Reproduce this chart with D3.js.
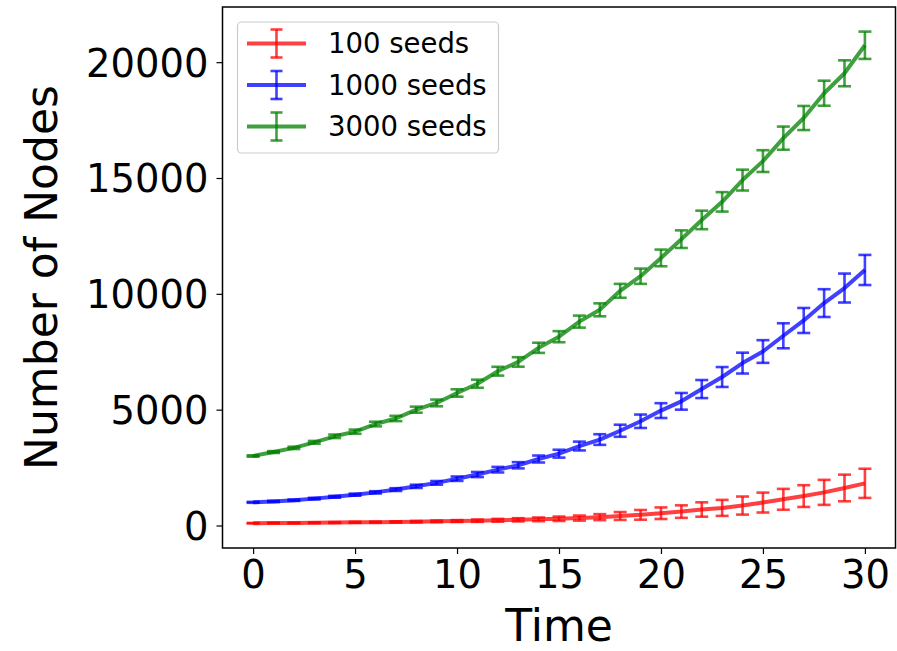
<!DOCTYPE html>
<html>
<head>
<meta charset="utf-8">
<script src="https://cdn.jsdelivr.net/npm/d3@7/dist/d3.min.js"></script>
<style>
  body { margin: 0; background: #fff; }
  svg { display: block; }
  text { font-family: "DejaVu Sans", sans-serif; fill: #000; }
</style>
</head>
<body>
<svg id="chart" width="897" height="651"></svg>
<script>
// Time steps of the simulation
const time = [0, 1, 2, 3, 4, 5, 6, 7, 8, 9, 10, 11, 12, 13, 14, 15,
              16, 17, 18, 19, 20, 21, 22, 23, 24, 25, 26, 27, 28, 29, 30];

// Mean number of nodes per time step, and the spread shown as error bars
const nodes100 = [100, 105, 110, 118, 126, 135, 145, 155, 165, 178, 192, 208, 225, 245, 265, 290,
                  320, 360, 410, 460, 530, 600, 690, 760, 860, 990, 1130, 1270, 1430, 1620, 1820];
const err100   = [10, 12, 14, 16, 18, 20, 23, 26, 30, 35, 40, 50, 60, 70, 80, 95,
                  110, 130, 170, 210, 250, 270, 310, 345, 390, 430, 450, 470, 540, 575, 630];

const nodes1000 = [1000, 1040, 1090, 1160, 1240, 1330, 1430, 1550, 1690, 1840, 2020, 2200, 2410, 2600, 2870, 3100,
                   3430, 3710, 4090, 4500, 4960, 5360, 5890, 6410, 7010, 7510, 8190, 8850, 9600, 10250, 11030];
const err1000   = [20, 25, 30, 35, 40, 45, 50, 60, 70, 80, 95, 110, 120, 135, 150, 170,
                   190, 230, 260, 290, 320, 360, 390, 430, 450, 490, 540, 540, 600, 625, 650];

const nodes3000 = [3000, 3170, 3350, 3590, 3850, 4050, 4380, 4620, 5000, 5290, 5720, 6120, 6660, 7060, 7670, 8150,
                   8800, 9310, 10130, 10760, 11550, 12360, 13190, 13970, 14910, 15730, 16720, 17590, 18660, 19520, 20730];
const err3000   = [30, 40, 50, 60, 75, 90, 100, 115, 130, 145, 160, 175, 190, 205, 220, 240,
                   260, 280, 300, 330, 360, 380, 400, 420, 450, 470, 500, 520, 540, 560, 590];

const seriesLabels = ["100 seeds", "1000 seeds", "3000 seeds"];
const seriesColors = ["#ff0000", "#0000ff", "#008000"];

const xTicks = [0, 5, 10, 15, 20, 25, 30];
const yTicks = [0, 5000, 10000, 15000, 20000];

const series = [
  { label: seriesLabels[0], color: seriesColors[0], mean: nodes100, err: err100 },
  { label: seriesLabels[1], color: seriesColors[1], mean: nodes1000, err: err1000 },
  { label: seriesLabels[2], color: seriesColors[2], mean: nodes3000, err: err3000 }
];

const svg = d3.select("#chart");
const box = { left: 222.5, right: 895.5, top: 7, bottom: 548 };

// Axis limits padded by 5% around the data, error bars included
const xMin = d3.min(time), xMax = d3.max(time);
const xPad = (xMax - xMin) * 0.05;
const x = d3.scaleLinear().domain([xMin - xPad, xMax + xPad]).range([box.left, box.right]);

const lo = d3.min(series, s => d3.min(s.mean, (v, i) => v - s.err[i]));
const hi = d3.max(series, s => d3.max(s.mean, (v, i) => v + s.err[i]));
const yPad = (hi - lo) * 0.05;
const y = d3.scaleLinear().domain([lo - yPad, hi + yPad]).range([box.bottom, box.top]);

// Axes
const xAxis = svg.append("g")
  .attr("transform", `translate(0,${box.bottom})`)
  .call(d3.axisBottom(x).tickValues(xTicks).tickSize(6).tickPadding(6).tickFormat(d3.format("d")));
const yAxis = svg.append("g")
  .attr("transform", `translate(${box.left},0)`)
  .call(d3.axisLeft(y).tickValues(yTicks).tickSize(6).tickPadding(8).tickFormat(d3.format("d")));

[xAxis, yAxis].forEach(g => {
  g.select(".domain").remove();
  g.selectAll(".tick line").attr("stroke", "#000").attr("stroke-width", 1.2);
  g.selectAll(".tick text").attr("font-size", 38.5).attr("font-family", "DejaVu Sans").attr("fill", "#000");
});
xAxis.selectAll(".tick text").attr("dy", "0.74em");
yAxis.selectAll(".tick text").attr("dy", "0.36em");

// Series: line plus vertical error bars with caps
const line = d3.line().x((d, i) => x(time[i])).y(d => y(d));
const cap = 6.5;
const barWidth = 2.6;

series.forEach(s => {
  const g = svg.append("g");
  g.append("path")
    .attr("d", line(s.mean))
    .attr("fill", "none")
    .attr("stroke", s.color)
    .attr("stroke-opacity", 0.75)
    .attr("stroke-width", 4)
    .attr("stroke-linejoin", "round");

  const bars = g.selectAll("g.bar")
    .data(s.mean.map((v, i) => ({ t: time[i], v, e: s.err[i] })))
    .join("g").attr("class", "bar");
  bars.append("line")
    .attr("x1", d => x(d.t)).attr("x2", d => x(d.t))
    .attr("y1", d => y(d.v - d.e)).attr("y2", d => y(d.v + d.e))
    .attr("stroke", s.color).attr("stroke-opacity", 0.75).attr("stroke-width", barWidth);
  bars.append("line")
    .attr("x1", d => x(d.t) - cap).attr("x2", d => x(d.t) + cap)
    .attr("y1", d => y(d.v + d.e)).attr("y2", d => y(d.v + d.e))
    .attr("stroke", s.color).attr("stroke-opacity", 0.75).attr("stroke-width", barWidth);
  bars.append("line")
    .attr("x1", d => x(d.t) - cap).attr("x2", d => x(d.t) + cap)
    .attr("y1", d => y(d.v - d.e)).attr("y2", d => y(d.v - d.e))
    .attr("stroke", s.color).attr("stroke-opacity", 0.75).attr("stroke-width", barWidth);
});

// Frame around the plotting area
svg.append("rect")
  .attr("x", box.left).attr("y", box.top)
  .attr("width", box.right - box.left).attr("height", box.bottom - box.top)
  .attr("fill", "none").attr("stroke", "#000").attr("stroke-width", 1.5);

// Axis titles
svg.append("text")
  .attr("x", (box.left + box.right) / 2).attr("y", 641)
  .attr("text-anchor", "middle").attr("font-size", 44)
  .text("Time");
svg.append("text")
  .attr("transform", `translate(57,${(box.top + box.bottom) / 2}) rotate(-90)`)
  .attr("text-anchor", "middle").attr("font-size", 44)
  .text("Number of Nodes");

// Legend
const legend = svg.append("g");
legend.append("rect")
  .attr("x", 237.5).attr("y", 22).attr("width", 261).attr("height", 131)
  .attr("rx", 4).attr("fill", "#fff").attr("fill-opacity", 0.8)
  .attr("stroke", "#cccccc").attr("stroke-width", 1.2);

const rows = legend.selectAll("g.row").data(series).join("g")
  .attr("class", "row")
  .attr("transform", (d, i) => `translate(0,${43.5 + i * 41.5})`);
rows.append("line")
  .attr("x1", 247).attr("x2", 306).attr("y1", 0).attr("y2", 0)
  .attr("stroke", d => d.color).attr("stroke-opacity", 0.75).attr("stroke-width", 4);
rows.append("line")
  .attr("x1", 276.5).attr("x2", 276.5).attr("y1", -14).attr("y2", 14)
  .attr("stroke", d => d.color).attr("stroke-opacity", 0.75).attr("stroke-width", barWidth);
[-14, 14].forEach(off => {
  rows.append("line")
    .attr("x1", 276.5 - 6).attr("x2", 276.5 + 6).attr("y1", off).attr("y2", off)
    .attr("stroke", d => d.color).attr("stroke-opacity", 0.75).attr("stroke-width", barWidth);
});
rows.append("text")
  .attr("x", 328).attr("y", 0).attr("dy", "0.36em")
  .attr("font-size", 27.5)
  .text(d => d.label);
</script>
</body>
</html>
